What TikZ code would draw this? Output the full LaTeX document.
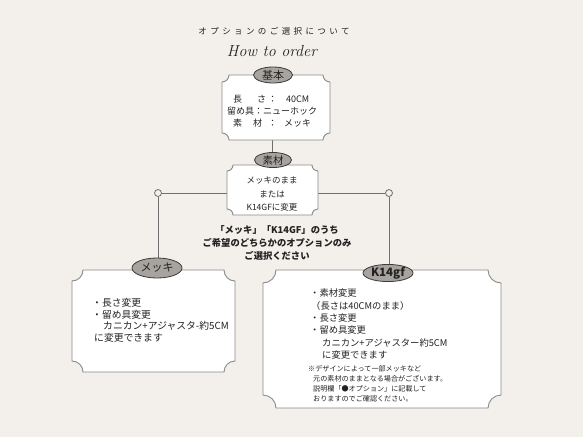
\documentclass[tikz,border=0pt]{standalone}
\usepackage{fontspec}
\setmainfont{Noto Sans CJK JP}
\newfontfamily\titlefont{Latin Modern Roman}
\definecolor{bg}{HTML}{F3F0EB}
\definecolor{boxline}{HTML}{8A8A8A}
\definecolor{ovalfill}{HTML}{A7A4A0}
\definecolor{ovalline}{HTML}{3A3A3A}
\definecolor{conn}{HTML}{707070}
\definecolor{ink}{HTML}{222222}
\tikzset{
  boxarea/.style={rectangle, inner sep=0pt, outer sep=0pt},
  boxpath/.style={draw=boxline, line width=0.9pt, fill=white},
  oval/.style={ellipse, draw=ovalline, line width=0.8pt, fill=ovalfill, inner sep=0pt, text=ink, font=\fontsize{10.5}{12}\selectfont},
  dot/.style={circle, draw=conn, line width=0.8pt, fill=bg, minimum size=7pt, inner sep=0pt},
  conline/.style={draw=conn, line width=0.9pt},
  txt/.style={inner sep=0pt, text=ink, font=\fontsize{9}{10}\selectfont, anchor=west},
  ctxt/.style={inner sep=0pt, text=ink, font=\fontsize{8.5}{10}\selectfont},
  btxt/.style={inner sep=0pt, text=ink, font=\fontsize{9.3}{11}\selectfont\bfseries},
  stxt/.style={inner sep=0pt, text=ink, font=\fontsize{7.1}{8}\selectfont, anchor=west}
}
\usetikzlibrary{shapes.geometric}
\newcommand\scallopbox[2]{%
  \path[boxpath] ([xshift=#2]#1.north west) -- ([xshift=-#2]#1.north east)
    arc[start angle=180,end angle=270,radius=#2] -- ([yshift=#2]#1.south east)
    arc[start angle=90,end angle=180,radius=#2] -- ([xshift=#2]#1.south west)
    arc[start angle=0,end angle=90,radius=#2] -- ([yshift=-#2]#1.north west)
    arc[start angle=270,end angle=360,radius=#2] -- cycle;}
\begin{document}
\begin{tikzpicture}[x=1pt,y=1pt]
\fill[bg] (0,0) rectangle (583,-437);
\useasboundingbox (0,0) rectangle (583,-437);

% title
\node[inner sep=0pt, text=ink, font=\fontsize{8.5}{10}\selectfont\addfontfeature{LetterSpace=40}] (ttl) at (274,-31) {オプションのご選択について};
\node[inner sep=0pt, text=ink, font=\fontsize{16}{18}\selectfont\titlefont\itshape] (how) at (272,-51) {How to order};

% box areas
\node[boxarea, minimum width=108pt, minimum height=65pt] (kihonbox) at (276,-107.5) {};
\node[boxarea, minimum width=91pt, minimum height=50pt] (sozaibox) at (272.5,-190) {};
\node[boxarea, minimum width=163pt, minimum height=102pt] (mekkibox) at (153.5,-321) {};
\node[boxarea, minimum width=238pt, minimum height=138pt] (k14box) at (382,-339) {};

% circles
\node[dot] (lc) at (158,-193) {};
\node[dot] (rc) at (389,-193) {};

% connectors
\path[conline] (lc.east) -- (rc.west);
\path[conline] (lc.south) -- (158,-262);
\path[conline] (rc.south) -- (389,-267);
\path[conline] (272,-140) -- (272,-155);

% boxes
\scallopbox{kihonbox}{7pt}
\scallopbox{sozaibox}{6pt}
\scallopbox{mekkibox}{11pt}
\scallopbox{k14box}{13pt}

% ovals
\node[oval, minimum width=39pt, minimum height=16pt, font=\fontsize{11}{12}\selectfont] (kihonoval) at (273,-75) {基本};
\node[oval, minimum width=37pt, minimum height=15pt] (sozaioval) at (273,-160) {素材};
\node[oval, minimum width=50pt, minimum height=20pt, font=\fontsize{11}{12}\selectfont] (mekkioval) at (157,-268) {メッキ};
\node[oval, minimum width=50pt, minimum height=17pt, font=\fontsize{11.5}{12}\selectfont\bfseries] (k14oval) at (388,-273) {K14gf};

% kihon text
\node[txt] (k1) at (233,-99) {長\hspace{15pt}さ\hspace{2pt}：\hspace{9pt}40CM};
\node[txt] (k2) at (227,-111) {留め具：ニューホック};
\node[txt] (k3) at (233,-123) {素\hspace{11pt}材\hspace{6pt}：\hspace{7pt}メッキ};

% sozai text
\node[ctxt] (s1) at (272,-180) {メッキのまま};
\node[ctxt] (s2) at (272,-194) {または};
\node[ctxt] (s3) at (272,-207) {K14GFに変更};

% middle
\node[btxt] (m1) at (277,-230) {「メッキ」「K14GF」のうち};
\node[btxt] (m2) at (277,-243) {ご希望のどちらかのオプションのみ};
\node[btxt] (m3) at (277,-256) {ご選択ください};

% mekki text
\node[txt, font=\fontsize{9.8}{10}\selectfont] (a1) at (92,-303) {・長さ変更};
\node[txt, font=\fontsize{9.8}{10}\selectfont] (a2) at (92,-314.5) {・留め具変更};
\node[txt, font=\fontsize{9.8}{10}\selectfont] (a3) at (103,-326) {カニカン+アジャスタ-約5CM};
\node[txt, font=\fontsize{9.8}{10}\selectfont] (a4) at (94,-337.5) {に変更できます};

% k14 text
\node[txt, font=\fontsize{9.3}{10}\selectfont] (b1) at (310,-293) {・素材変更};
\node[txt, font=\fontsize{9.3}{10}\selectfont] (b2) at (311,-305.5) {（長さは40CMのまま）};
\node[txt, font=\fontsize{9.3}{10}\selectfont] (b3) at (310,-318) {・長さ変更};
\node[txt, font=\fontsize{9.3}{10}\selectfont] (b4) at (310,-330) {・留め具変更};
\node[txt, font=\fontsize{9.3}{10}\selectfont] (b5) at (322,-342.5) {カニカン+アジャスター約5CM};
\node[txt, font=\fontsize{9.3}{10}\selectfont] (b6) at (322,-355) {に変更できます};
\node[stxt] (c1) at (308,-369) {※デザインによって一部メッキなど};
\node[stxt] (c2) at (313,-379) {元の素材のままとなる場合がございます。};
\node[stxt] (c3) at (313,-389) {説明欄「●オプション」に記載して};
\node[stxt] (c4) at (313,-398.5) {おりますのでご確認ください。};
\end{tikzpicture}
\end{document}
